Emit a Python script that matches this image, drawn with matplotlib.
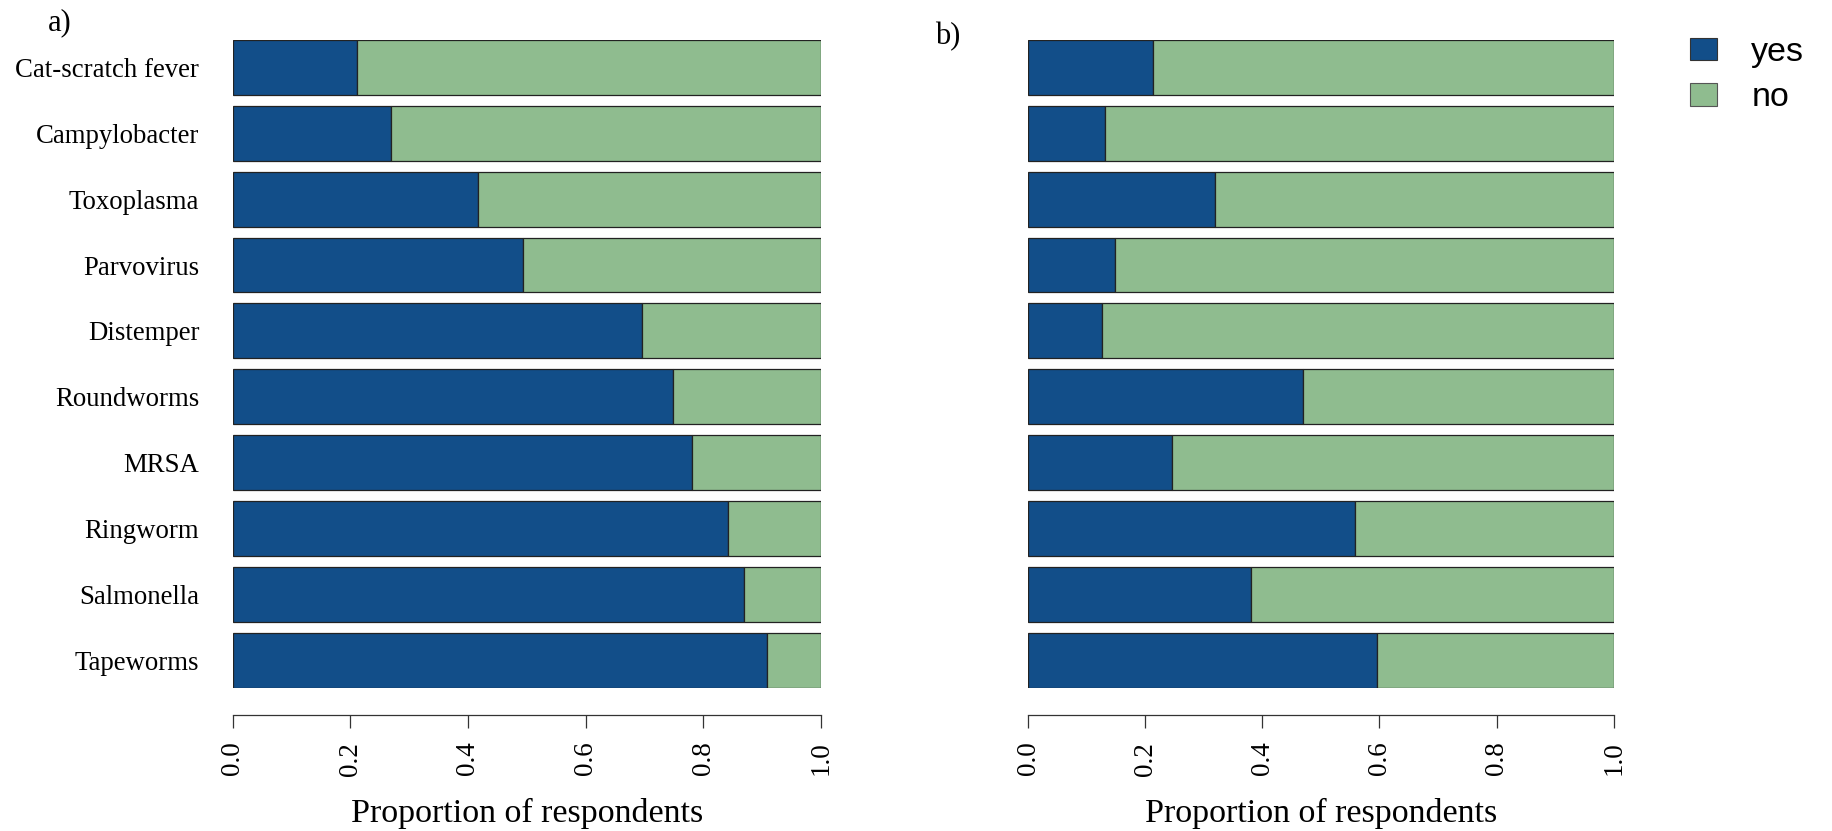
import matplotlib
matplotlib.use("Agg")
import matplotlib.pyplot as plt
from matplotlib.patches import Patch
import numpy as np

# top-to-bottom order as shown in the chart
categories = ["Cat-scratch fever", "Campylobacter", "Toxoplasma", "Parvovirus",
              "Distemper", "Roundworms", "MRSA", "Ringworm", "Salmonella", "Tapeworms"]
yes_a = [0.212, 0.269, 0.418, 0.493, 0.696, 0.749, 0.781, 0.842, 0.869, 0.908]
yes_b = [0.213, 0.132, 0.320, 0.149, 0.127, 0.469, 0.246, 0.559, 0.381, 0.596]
x_ticks = [0.0, 0.2, 0.4, 0.6, 0.8, 1.0]
series_labels = ["yes", "no"]

BLUE = "#124E89"
GREEN = "#8FBC8F"
EDGE = "#222222"
SERIF = "Liberation Serif"
SANS = "Liberation Sans"

W, H = 1832, 831
fig = plt.figure(figsize=(W / 100, H / 100), dpi=100)

bar_h = 1 / 1.2
n = len(categories)
ypos = np.arange(n)[::-1]


def panel(left_px, right_px, yes, show_labels):
    ax = fig.add_axes([left_px / W, 1 - 687.7 / H, (right_px - left_px) / W, (687.7 - 40) / H])
    yes = np.array(yes)
    ax.barh(ypos, yes, height=bar_h, color=BLUE, edgecolor=EDGE, linewidth=0.9)
    ax.barh(ypos, 1 - yes, left=yes, height=bar_h, color=GREEN, edgecolor=EDGE, linewidth=0.9)
    ax.set_xlim(0, 1)
    ax.set_ylim(-bar_h / 2, n - 1 + bar_h / 2)
    for s in ["top", "right", "left"]:
        ax.spines[s].set_visible(False)
    ax.spines["bottom"].set_position(("outward", 19.5))
    ax.spines["bottom"].set_color("#333333")
    ax.spines["bottom"].set_linewidth(0.9)
    ax.set_xticks(x_ticks)
    ax.set_xticklabels([f"{t:.1f}" for t in x_ticks], rotation=90, family=SERIF, fontsize=19.5)
    ax.tick_params(axis="x", length=9.4, width=0.9, color="#333333", pad=10)
    if show_labels:
        ax.set_yticks(ypos)
        ax.set_yticklabels(categories, family=SERIF, fontsize=19.3)
        ax.tick_params(axis="y", length=0, pad=24)
    else:
        ax.set_yticks([])
    fig.text((left_px + right_px) / 2 / W, 1 - 822 / H, "Proportion of respondents",
             ha="center", va="baseline", family=SERIF, fontsize=24.5)
    return ax


panel(232.7, 820.7, yes_a, True)
panel(1028, 1613.7, yes_b, False)

fig.text(48 / W, 1 - 30 / H, "a)", family=SERIF, fontsize=22, va="baseline")
fig.text(935 / W, 1 - 44 / H, "b)", family=SERIF, fontsize=22, va="baseline")

handles = [Patch(facecolor=BLUE, edgecolor="#333333", linewidth=0.8),
           Patch(facecolor=GREEN, edgecolor="#555555", linewidth=0.8)]
fig.legend(handles, series_labels, loc="upper left", bbox_to_anchor=(1690 / W, 1 - 37 / H),
           frameon=False, prop={"family": SANS, "size": 24.5},
           handlelength=0.8, handleheight=0.65, handletextpad=1.0, labelspacing=0.42,
           borderaxespad=0, borderpad=0)

fig.savefig("out.png", dpi=100, facecolor="white")
